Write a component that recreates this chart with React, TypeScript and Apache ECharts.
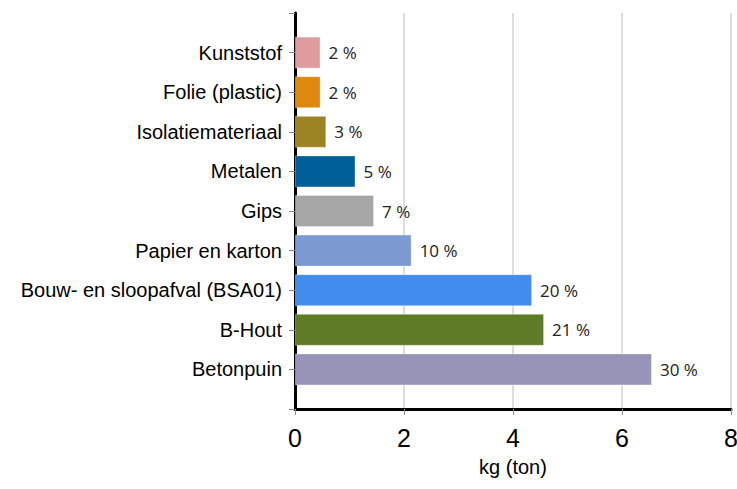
import React, { useEffect, useRef } from "react";
import * as echarts from "echarts";

const categories = [
  "Kunststof",
  "Folie (plastic)",
  "Isolatiemateriaal",
  "Metalen",
  "Gips",
  "Papier en karton",
  "Bouw- en sloopafval (BSA01)",
  "B-Hout",
  "Betonpuin",
];
const values = [0.47, 0.47, 0.575, 1.11, 1.45, 2.14, 4.35, 4.57, 6.55];
const percentLabels = ["2 %", "2 %", "3 %", "5 %", "7 %", "10 %", "20 %", "21 %", "30 %"];
const barColors = [
  "#de9c9e",
  "#dd880e",
  "#9c8424",
  "#005f98",
  "#a6a6a6",
  "#7b9bd2",
  "#428ced",
  "#5e7c25",
  "#9794b8",
];
const xTicks = [0, 2, 4, 6, 8];

export default function App() {
  const ref = useRef<HTMLDivElement>(null);
  useEffect(() => {
    if (!ref.current) return;
    const chart = echarts.init(ref.current, null, { renderer: "svg" });
    const axisCats = ["", ...categories, ""];
    const data: any[] = [
      "-",
      ...values.map((v, i) => ({
        value: v,
        itemStyle: { color: barColors[i] },
        label: { formatter: percentLabels[i] },
      })),
      "-",
    ];
    chart.setOption({
      animation: false,
      grid: {
        left: 295,
        right: 6,
        top: 13,
        bottom: 80,
        containLabel: false,
        outerBoundsMode: "none",
      },
      xAxis: {
        type: "value",
        min: xTicks[0],
        max: xTicks[xTicks.length - 1],
        interval: 2,
        name: "kg (ton)",
        nameLocation: "middle",
        nameGap: 48,
        nameTextStyle: { fontFamily: "Liberation Sans", fontSize: 20, color: "#000" },
        axisLine: { show: true, lineStyle: { color: "#000", width: 3 } },
        axisTick: { show: true, length: 6, lineStyle: { color: "#888", width: 1 } },
        axisLabel: {
          fontFamily: "Liberation Sans",
          fontSize: 25,
          color: "#000",
          margin: 16,
        },
        splitLine: { show: true, lineStyle: { color: "#dddddd", width: 2 } },
      },
      yAxis: {
        type: "category",
        data: axisCats,
        inverse: true,
        boundaryGap: false,
        axisLine: { show: true, lineStyle: { color: "#000", width: 3 } },
        axisTick: { show: true, length: 6, lineStyle: { color: "#888", width: 1 } },
        axisLabel: {
          fontFamily: "Liberation Sans",
          fontSize: 20,
          color: "#000",
          margin: 13,
          interval: 0,
        },
        splitLine: { show: false },
      },
      series: [
        {
          type: "bar",
          data,
          barWidth: 32,
          itemStyle: { borderColor: "rgba(255,255,255,0.35)", borderWidth: 1 },
          label: {
            show: true,
            position: "right",
            distance: 8,
            fontFamily: "Open Sans",
            fontSize: 17,
            color: "#222",
          },
        },
      ],
    });
    return () => chart.dispose();
  }, []);
  return (
    <div
      ref={ref}
      style={{ position: "absolute", left: 0, top: 0, width: 737, height: 489 }}
    />
  );
}
